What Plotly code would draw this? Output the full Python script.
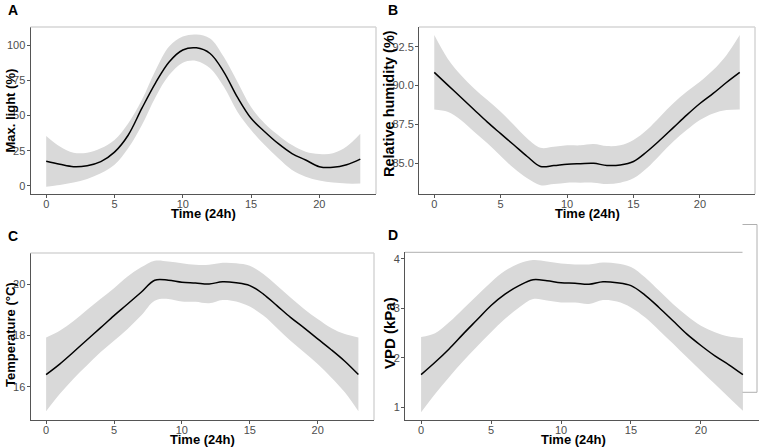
import plotly.graph_objects as go

hours = list(range(24))

light_mean = [17.5, 15.4, 13.7, 14.4, 17.3, 24.0, 36.0, 55.0, 73.0, 88.0, 96.5, 98.0,
              94.0, 81.0, 63.0, 48.0, 38.5, 30.0, 23.0, 18.4, 13.7, 13.2, 15.0, 19.0]
light_upper = [35.5, 28.0, 23.6, 23.6, 26.7, 32.6, 44.4, 61.0, 82.0, 99.0, 106.0, 107.5,
               104.7, 91.7, 74.0, 56.0, 44.4, 36.0, 29.0, 24.3, 22.7, 23.2, 28.0, 37.0]
light_lower = [-0.5, 0.7, 2.4, 5.0, 9.0, 15.0, 26.7, 43.0, 63.0, 78.7, 87.5, 88.7,
               83.5, 70.5, 52.7, 39.7, 29.0, 19.6, 11.3, 6.6, 3.8, 2.4, 1.7, 1.7]

rh_mean = [90.85, 90.05, 89.25, 88.45, 87.65, 86.91, 86.18, 85.44, 84.8, 84.86, 84.95, 84.98,
           85.0, 84.87, 84.9, 85.12, 85.75, 86.5, 87.3, 88.1, 88.85, 89.5, 90.2, 90.85]
rh_upper = [93.25, 91.75, 90.68, 89.82, 89.07, 88.32, 87.46, 86.6, 86.0, 86.07, 86.16, 86.16,
            86.24, 86.11, 86.16, 86.5, 87.14, 88.0, 88.86, 89.6, 90.25, 91.0, 91.96, 93.25]
rh_lower = [88.47, 88.32, 87.79, 87.04, 86.29, 85.47, 84.68, 84.04, 83.6, 83.67, 83.76, 83.76,
            83.76, 83.67, 83.76, 84.04, 84.68, 85.54, 86.4, 87.14, 87.79, 88.21, 88.43, 88.47]

temp_mean = [16.47, 16.88, 17.34, 17.82, 18.29, 18.77, 19.22, 19.68, 20.15, 20.15, 20.07, 20.04,
             20.0, 20.09, 20.05, 19.94, 19.61, 19.16, 18.7, 18.29, 17.86, 17.44, 16.99, 16.47]
temp_upper = [17.92, 18.18, 18.55, 18.99, 19.42, 19.84, 20.29, 20.65, 20.91, 20.88, 20.81, 20.75,
              20.75, 20.83, 20.81, 20.71, 20.39, 19.94, 19.48, 19.03, 18.64, 18.29, 18.05, 17.92]
temp_lower = [15.04, 15.71, 16.3, 16.82, 17.34, 17.79, 18.25, 18.77, 19.35, 19.42, 19.32, 19.31,
              19.25, 19.38, 19.32, 19.12, 18.77, 18.29, 17.79, 17.34, 16.88, 16.36, 15.78, 15.04]

vpd_mean = [1.66, 1.91, 2.18, 2.48, 2.77, 3.06, 3.29, 3.46, 3.58, 3.56, 3.52, 3.51,
            3.49, 3.54, 3.52, 3.46, 3.27, 3.02, 2.75, 2.48, 2.25, 2.04, 1.86, 1.66]
vpd_upper = [2.42, 2.5, 2.72, 2.99, 3.26, 3.53, 3.76, 3.91, 3.98, 3.95, 3.91, 3.89,
             3.89, 3.93, 3.91, 3.84, 3.63, 3.36, 3.09, 2.85, 2.65, 2.52, 2.43, 2.40]
vpd_lower = [0.9, 1.27, 1.61, 1.93, 2.23, 2.52, 2.79, 3.02, 3.19, 3.16, 3.12, 3.12,
             3.09, 3.17, 3.14, 3.02, 2.82, 2.56, 2.29, 2.01, 1.74, 1.47, 1.2, 0.93]

x_ticks = [0, 5, 10, 15, 20]
x_title = "Time (24h)"
panels = [
    dict(letter="A", ytitle="Max. light (%)", mean=light_mean, up=light_upper, lo=light_lower,
         yticks=[0, 25, 50, 75, 100], yfmt="d", yrange=[-5.7, 112.8],
         px=(30.5, 376), py=(27, 194), frame=True, tx=10, ty=110.5, ts=13),
    dict(letter="B", ytitle="Relative humidity (%)", mean=rh_mean, up=rh_upper, lo=rh_lower,
         yticks=[85.0, 87.5, 90.0, 92.5], yfmt=".1f", yrange=[83.03, 93.77],
         px=(419, 755), py=(27, 194), frame=True, tx=389, ty=104, ts=14.5),
    dict(letter="C", ytitle="Temperature (°C)", mean=temp_mean, up=temp_upper, lo=temp_lower,
         yticks=[16, 18, 20], yfmt="d", yrange=[14.70, 21.21],
         px=(30.5, 374), py=(253, 420), frame=True, tx=10, ty=335, ts=13),
    dict(letter="D", ytitle="VPD (kPa)", mean=vpd_mean, up=vpd_upper, lo=vpd_lower,
         yticks=[1, 2, 3, 4], yfmt="d", yrange=[0.743, 4.135],
         px=(405, 759), py=(252.3, 420), frame=False, tx=389.5, ty=332.5, ts=15),
]

W, H = 760, 448
FONT = "Liberation Sans, Arial, sans-serif"
fig = go.Figure()
shapes = []
annotations = []

def fx(p):
    return p / W

def fy(p):
    return 1 - p / H

for i, p in enumerate(panels, start=1):
    sfx = "" if i == 1 else str(i)
    xa, ya = "x" + sfx, "y" + sfx
    fig.add_trace(go.Scatter(x=hours, y=p["lo"], xaxis=xa, yaxis=ya, mode="lines",
                             line=dict(width=0, shape="spline", smoothing=1.0), hoverinfo="skip"))
    fig.add_trace(go.Scatter(x=hours, y=p["up"], xaxis=xa, yaxis=ya, mode="lines",
                             line=dict(width=0, shape="spline", smoothing=1.0), fill="tonexty",
                             fillcolor="#d9d9d9", hoverinfo="skip"))
    fig.add_trace(go.Scatter(x=hours, y=p["mean"], xaxis=xa, yaxis=ya, mode="lines",
                             line=dict(color="black", width=1.5, shape="spline", smoothing=1.0)))
    x0, x1 = p["px"]
    y0, y1 = p["py"]
    axis_common = dict(showgrid=False, zeroline=False, showline=True, linecolor="#555555",
                       linewidth=1, ticks="outside", ticklen=3, tickwidth=1, tickcolor="#555555",
                       tickfont=dict(family=FONT, size=11, color="#4d4d4d"), automargin=False)
    fig.layout["xaxis" + sfx] = dict(axis_common, domain=[fx(x0), fx(x1)], anchor=ya,
                                      range=[-1.15, 24.15], tickvals=x_ticks,
                                      ticklabelstandoff=-3)
    fig.layout["yaxis" + sfx] = dict(axis_common, domain=[fy(y1), fy(y0)], anchor=xa,
                                      range=p["yrange"], tickvals=p["yticks"],
                                      tickformat=p["yfmt"], ticklabelstandoff=-1)
    if p["frame"]:
        shapes.append(dict(type="line", xref="paper", yref="paper", x0=fx(x0), x1=fx(x1),
                           y0=fy(y0), y1=fy(y0), line=dict(color="#d6d6d6", width=1.5)))
        shapes.append(dict(type="line", xref="paper", yref="paper", x0=fx(x1), x1=fx(x1),
                           y0=fy(y0), y1=fy(y1), line=dict(color="#d6d6d6", width=1.5)))
    # panel letter
    annotations.append(dict(text="<b>%s</b>" % p["letter"], xref="paper", yref="paper",
                            x=fx(6 if x0 < 100 else 386), y=fy(y0 - 17),
                            xanchor="left", yanchor="middle", showarrow=False,
                            font=dict(family=FONT, size=14, color="black")))
    # axis titles
    annotations.append(dict(text="<b>%s</b>" % x_title, xref="paper", yref="paper",
                            x=fx((x0 + x1) / 2 if p["frame"] else (x0 + 742) / 2),
                            y=fy(y1 + 19.5), xanchor="center", yanchor="middle",
                            showarrow=False, font=dict(family=FONT, size=13, color="black")))
    annotations.append(dict(text="<b>%s</b>" % p["ytitle"], xref="paper", yref="paper",
                            x=fx(p["tx"]), y=fy(p["ty"]), textangle=-90,
                            xanchor="center", yanchor="middle", showarrow=False,
                            font=dict(family=FONT, size=p["ts"], color="black")))

# panel D top line and right bracket
line_grey = dict(color="#b0b0b0", width=1)
shapes.append(dict(type="line", xref="paper", yref="paper", x0=fx(405), x1=fx(742.5),
                   y0=fy(252.3), y1=fy(252.3), line=line_grey))
shapes.append(dict(type="line", xref="paper", yref="paper", x0=fx(742.5), x1=fx(757),
                   y0=fy(224.5), y1=fy(224.5), line=line_grey))
shapes.append(dict(type="line", xref="paper", yref="paper", x0=fx(757), x1=fx(757),
                   y0=fy(224.5), y1=fy(392.3), line=line_grey))
shapes.append(dict(type="line", xref="paper", yref="paper", x0=fx(742.5), x1=fx(757),
                   y0=fy(392.3), y1=fy(392.3), line=line_grey))

fig.update_layout(width=W, height=H, margin=dict(l=0, r=0, t=0, b=0),
                  plot_bgcolor="white", paper_bgcolor="white", showlegend=False,
                  shapes=shapes, annotations=annotations)
fig.write_html("out.html", config={"displayModeBar": False},
               post_script="document.body.style.margin='0';document.body.style.padding='0';")
